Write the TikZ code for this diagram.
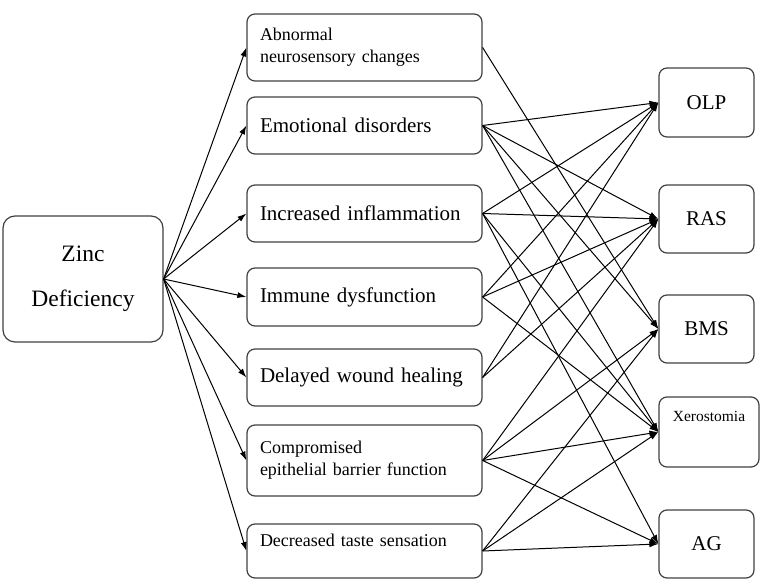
\documentclass[tikz,border=0pt]{standalone}
\usepackage{fontspec}
\setmainfont{Liberation Serif}
\usetikzlibrary{arrows, arrows.meta, positioning, shapes}

\tikzstyle{root} = [rectangle, rounded corners=12pt, minimum width=160pt, minimum height=126pt, align=center, draw=black!75, line width=1.2pt, font=\fontsize{23.5}{45}\selectfont]
\tikzstyle{cause} = [rectangle, rounded corners=8pt, minimum width=235pt, text width=209pt, inner xsep=13pt, align=left, draw=black!75, line width=1.2pt, font=\fontsize{21}{25}\selectfont]
\tikzstyle{smallcause} = [cause, font=\fontsize{18}{22}\selectfont]
\tikzstyle{disease} = [rectangle, rounded corners=8pt, minimum width=95pt, minimum height=68pt, text centered, draw=black!75, line width=1.2pt, font=\fontsize{21}{25}\selectfont]
\tikzstyle{line} = [draw, line width=1pt, -{Latex[length=9pt, width=6pt]}]

\begin{document}
\begin{tikzpicture}[x=1pt, y=1pt]
	\useasboundingbox (0,0) rectangle (764,586);

	% Source
	\node(zinc) [root] at (83,307) {Zinc\\Deficiency};

	% Consequences
	\node(b1) [smallcause, minimum height=67pt] at (364.5,538.5) {Abnormal\\neurosensory changes};
	\node(b2) [cause, below of=b1, node distance=78pt, minimum height=57pt] {Emotional disorders};
	\node(b3) [cause, below of=b2, node distance=88pt, minimum height=57pt] {Increased inflammation};
	\node(b4) [cause, below of=b3, node distance=83.5pt, minimum height=58pt] {Immune dysfunction};
	\node(b5) [cause, below of=b4, node distance=80.5pt, minimum height=57pt] {Delayed wound healing};
	\node(b6) [smallcause, below of=b5, node distance=83pt, minimum height=71pt] {Compromised\\epithelial barrier function};
	\node(b7) [smallcause, below of=b6, node distance=90.5pt, minimum height=54pt, text depth=22pt] {Decreased taste sensation};

	% Oral diseases
	\node(olp) [disease, minimum height=69pt] at (706.5,483.5) {OLP};
	\node(ras) [disease, below of=olp, node distance=116.5pt] {RAS};
	\node(bms) [disease, below of=ras, node distance=110pt] {BMS};
	\node(xero) [disease, below of=bms, node distance=103pt, xshift=2.5pt, minimum width=100pt, minimum height=70pt, font=\fontsize{15.5}{18}\selectfont, text height=11pt, text depth=31pt] {Xerostomia};
	\node(ag) [disease, below of=xero, node distance=112pt, xshift=-2.5pt] {AG};

	% Draw edges
	\foreach \b in {b1,b2,b3,b4,b5,b6,b7}
		\path [line] (zinc.east) -- (\b.west);

	\foreach \s/\t in {b1/bms, b2/olp, b2/ras, b2/bms, b2/xero,
		b3/olp, b3/ras, b3/xero, b3/ag, b4/olp, b4/ras, b4/xero,
		b5/olp, b5/ras, b6/ras, b6/bms, b6/xero, b6/ag,
		b7/bms, b7/xero, b7/ag}
		\path [line] (\s.east) -- (\t.west);

\end{tikzpicture}
\end{document}
